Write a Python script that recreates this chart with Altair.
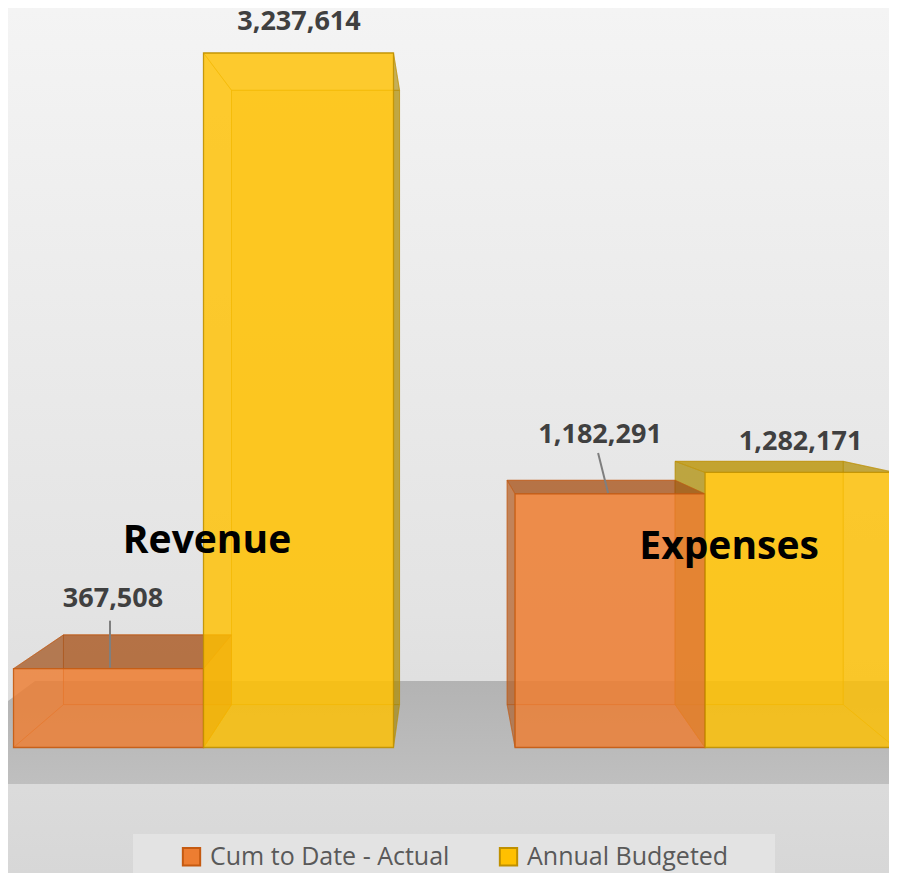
import altair as alt
import pandas as pd

# ---------------- data ----------------
categories = ["Revenue", "Expenses"]
series = ["Cum to Date - Actual", "Annual Budgeted"]
actual = [367508, 1182291]
budget = [3237614, 1282171]

# ---------------- layout / style constants ----------------
W, H = 881, 865
X_DOM = [-0.029, 4.608]          # bar units (each bar is 1 unit wide)
Y_DOM = [-585000, 3447400]
GROUP_GAP = 0.64
VP_X, VP_V = 2.276, 1731850      # perspective vanishing point (data units)
DEPTH = 0.8845                   # back-face scale

front_col = ["#ED7D31", "#FFC000"]
edge_col = ["#C55A11", "#BF9000"]
side_col = ["#A9561F", "#9C8000"]
top_col = ["#A0501A", "#B08C00"]

X_PER_PX = (X_DOM[1] - X_DOM[0]) / W
V_PER_PX = (Y_DOM[1] - Y_DOM[0]) / H


def px_to_x(px):
    return X_DOM[0] + (px - 8) * X_PER_PX


def py_to_v(py):
    return Y_DOM[1] - (py - 8) * V_PER_PX


def back(x, v):
    return VP_X + DEPTH * (x - VP_X), VP_V + DEPTH * (v - VP_V)


xs = alt.Scale(domain=X_DOM, nice=False, zero=False)
ys = alt.Scale(domain=Y_DOM, nice=False, zero=False)

values = [actual, budget]
vrows, hrows, fronts = [], [], []
for i, cat in enumerate(categories):
    g = i * (2 + GROUP_GAP)
    for j, ser in enumerate(series):
        V = values[j][i]
        xl, xr = g + j, g + j + 1
        bxl, bv0 = back(xl, 0)
        bxr, bV = back(xr, V)
        base = f"{cat}-{j}"

        def vface(name, layer, pts, fill, fo, so):
            for (x, lo, hi) in pts:
                vrows.append(dict(fid=base + name, layer=layer, x=x, lo=lo, hi=hi,
                                  fill=fill, fo=fo, stroke=edge_col[j], so=so))

        def hface(name, layer, pts, fill, fo, so):
            for (v, a, b) in pts:
                hrows.append(dict(fid=base + name, layer=layer, v=v, xlo=a, xhi=b,
                                  fill=fill, fo=fo, stroke=edge_col[j], so=so))

        # back face
        vface("back", 0, [(bxl, bv0, bV), (bxr, bv0, bV)], front_col[j], 0.3, 0.5)
        # bottom face
        hface("bottom", 1, [(0, xl, xr), (bv0, bxl, bxr)], front_col[j], 0.08, 0.4)
        # left face
        out = bxl < xl
        vface("left", 2, sorted([(xl, 0, V), (bxl, bv0, bV)]),
              side_col[j] if out else front_col[j], 0.6 if out else 0.08, 0.45)
        # right face
        out = bxr > xr
        vface("right", 2, sorted([(xr, 0, V), (bxr, bv0, bV)]),
              side_col[j] if out else front_col[j], 0.6 if out else 0.08, 0.45)
        # top face
        out = bV > V
        hface("top", 3, sorted([(V, xl, xr), (bV, bxl, bxr)]),
              top_col[j] if out else front_col[j], 0.7 if out else 0.08, 0.5)
        # front face
        for x in (xl, xr):
            fronts.append(dict(fid=base + "front", series=ser, x=x, lo=0, hi=V))

vdf = pd.DataFrame(vrows)
hdf = pd.DataFrame(hrows)
fdf = pd.DataFrame(fronts)


def vlayer(layer):
    return alt.Chart(vdf[vdf.layer == layer]).mark_area(orient="vertical", clip=True, strokeWidth=1).encode(
        x=alt.X("x:Q", scale=xs, axis=None),
        y=alt.Y("lo:Q", scale=ys, axis=None, stack=None),
        y2="hi:Q",
        detail="fid:N",
        fill=alt.Fill("fill:N", scale=None),
        fillOpacity=alt.FillOpacity("fo:Q", scale=None),
        stroke=alt.Stroke("stroke:N", scale=None),
        strokeOpacity=alt.StrokeOpacity("so:Q", scale=None),
    )


def hlayer(layer):
    return alt.Chart(hdf[hdf.layer == layer]).mark_area(orient="horizontal", clip=True, strokeWidth=1).encode(
        y=alt.Y("v:Q", scale=ys, axis=None),
        x=alt.X("xlo:Q", scale=xs, axis=None, stack=None),
        x2="xhi:Q",
        detail="fid:N",
        fill=alt.Fill("fill:N", scale=None),
        fillOpacity=alt.FillOpacity("fo:Q", scale=None),
        stroke=alt.Stroke("stroke:N", scale=None),
        strokeOpacity=alt.StrokeOpacity("so:Q", scale=None),
    )


leg = alt.Legend(
    title=None, orient="none", legendX=171, legendY=836, direction="horizontal",
    symbolType="square", symbolSize=300, symbolStrokeWidth=2, symbolOpacity=1,
    labelFont="Open Sans", labelFontSize=25, labelColor="#595959",
    labelOffset=6, columnPadding=45, labelLimit=400,
)

front = alt.Chart(fdf).mark_area(orient="vertical", clip=True, fillOpacity=0.8,
                                 strokeWidth=1.3, strokeOpacity=0.85).encode(
    x=alt.X("x:Q", scale=xs, axis=None),
    y=alt.Y("lo:Q", scale=ys, axis=None, stack=None),
    y2="hi:Q",
    detail="fid:N",
    fill=alt.Fill("series:N", scale=alt.Scale(domain=series, range=front_col), legend=leg,
                  sort=series),
    stroke=alt.Stroke("series:N", scale=alt.Scale(domain=series, range=edge_col), legend=leg,
                      sort=series),
)

# ---------- background / floor ----------
one = pd.DataFrame({"a": [0]})
bg = alt.Chart(one).mark_rect(
    color=alt.LinearGradient(
        gradient="linear", x1=0, x2=0, y1=0, y2=1,
        stops=[alt.GradientStop(color="#f4f4f4", offset=0),
               alt.GradientStop(color="#e3e3e3", offset=0.7),
               alt.GradientStop(color="#d7d7d7", offset=1)],
    )
).encode(x=alt.value(0), x2=alt.value(W), y=alt.value(0), y2=alt.value(H))

floor_df = pd.DataFrame({
    "v": [py_to_v(681), py_to_v(784)],
    "xlo": [px_to_x(35), px_to_x(-104)],
    "xhi": [px_to_x(1000), px_to_x(1000)],
})
floor = alt.Chart(floor_df).mark_area(
    orient="horizontal", clip=True,
    color=alt.LinearGradient(
        gradient="linear", x1=0, x2=0, y1=0, y2=1,
        stops=[alt.GradientStop(color="#b3b3b3", offset=0),
               alt.GradientStop(color="#bfbfbf", offset=1)],
    ),
).encode(
    y=alt.Y("v:Q", scale=ys, axis=None),
    x=alt.X("xlo:Q", scale=xs, axis=None, stack=None),
    x2="xhi:Q",
)

legend_box = alt.Chart(one).mark_rect(color="#e3e3e3").encode(
    x=alt.value(125), x2=alt.value(767), y=alt.value(826), y2=alt.value(H)
)

# ---------- data labels ----------
label_up_px = [[62, 51], [23, 22]]        # per series, per category
label_dx_px = [[4.5, -10], [0.5, 0.5]]
leader_top = [(1.5, 48), (-12, 41)]       # actual series only (dx, up)
leader_bot = [(1.5, 1), (-2, 1)]

lab_rows, lead_rows = [], []
for i, cat in enumerate(categories):
    g = i * (2 + GROUP_GAP)
    for j, ser in enumerate(series):
        V = values[j][i]
        cx = g + j + 0.5
        lab_rows.append(dict(text=f"{V:,}", x=cx + label_dx_px[j][i] * X_PER_PX,
                             y=V + label_up_px[j][i] * V_PER_PX))
        if j == 0:
            lead_rows.append(dict(x=cx + leader_top[i][0] * X_PER_PX, y=V + leader_top[i][1] * V_PER_PX,
                                  x2=cx + leader_bot[i][0] * X_PER_PX, y2=V + leader_bot[i][1] * V_PER_PX))

labels = alt.Chart(pd.DataFrame(lab_rows)).mark_text(
    font="Open Sans", fontSize=27, fontWeight="bold", color="#404040", baseline="alphabetic", align="center"
).encode(x=alt.X("x:Q", scale=xs, axis=None), y=alt.Y("y:Q", scale=ys, axis=None), text="text:N")

leaders = alt.Chart(pd.DataFrame(lead_rows)).mark_rule(color="#7f7f7f", strokeWidth=2).encode(
    x=alt.X("x:Q", scale=xs, axis=None), y=alt.Y("y:Q", scale=ys, axis=None), x2="x2:Q", y2="y2:Q"
)

cat_dx_px = [3.5, 24]
cat_base_py = [553, 559]
cat_df = pd.DataFrame({
    "text": categories,
    "x": [i * (2 + GROUP_GAP) + 1 + cat_dx_px[i] * X_PER_PX for i in range(len(categories))],
    "y": [py_to_v(p) for p in cat_base_py],
})
cat_labels = alt.Chart(cat_df).mark_text(
    font="Open Sans", fontSize=39, fontWeight="bold", color="#000000", baseline="alphabetic", align="center"
).encode(x=alt.X("x:Q", scale=xs, axis=None), y=alt.Y("y:Q", scale=ys, axis=None), text="text:N")

chart = alt.layer(
    bg, floor, legend_box,
    vlayer(0), hlayer(1), vlayer(2), hlayer(3), front,
    leaders, labels, cat_labels,
).resolve_scale(fill="independent", stroke="independent").properties(
    width=W, height=H, padding=0, autosize=alt.AutoSizeParams(type="none"),
    background="#ffffff",
).configure_view(stroke=None)

chart.save("out.html", embed_options={"renderer": "svg", "actions": False})
